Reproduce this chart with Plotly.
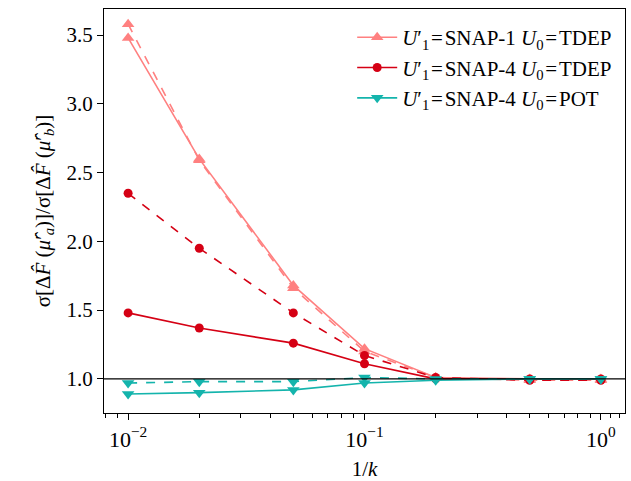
import plotly.graph_objects as go

inv_k = [0.01, 0.02, 0.05, 0.1, 0.2, 0.5, 1.0]

snap1_tdep_solid = [3.48, 2.60, 1.68, 1.22, 1.01, 1.00, 1.00]
snap1_tdep_dash = [3.58, 2.59, 1.66, 1.20, 1.01, 0.99, 0.99]
snap4_tdep_solid = [1.48, 1.37, 1.26, 1.11, 1.00, 1.00, 1.00]
snap4_tdep_dash = [2.35, 1.95, 1.48, 1.17, 1.01, 0.99, 0.99]
snap4_pot_solid = [0.89, 0.90, 0.92, 0.97, 0.99, 1.00, 1.00]
snap4_pot_dash = [0.97, 0.98, 0.98, 1.01, 1.00, 1.00, 1.00]

labels = [
    "<i>U</i>′<sub>1</sub>\u200a=\u200aSNAP-1 <i>U</i><sub>0</sub>\u200a=\u200aTDEP",
    "<i>U</i>′<sub>1</sub>\u200a=\u200aSNAP-4 <i>U</i><sub>0</sub>\u200a=\u200aTDEP",
    "<i>U</i>′<sub>1</sub>\u200a=\u200aSNAP-4 <i>U</i><sub>0</sub>\u200a=\u200aPOT",
]
colors = ["#ff8080", "#d50014", "#14b4ac"]
symbols = ["triangle-up", "circle", "triangle-down"]
msizes = [11, 9, 11]
solids = [snap1_tdep_solid, snap4_tdep_solid, snap4_pot_solid]
dashes = [snap1_tdep_dash, snap4_tdep_dash, snap4_pot_dash]

FONT = "Liberation Serif"

fig = go.Figure()

for i in range(3):
    fig.add_trace(go.Scatter(
        x=inv_k, y=solids[i], mode="lines+markers", name=labels[i],
        line=dict(color=colors[i], width=1.6),
        marker=dict(symbol=symbols[i], size=msizes[i], color=colors[i]),
        showlegend=True,
    ))
    fig.add_trace(go.Scatter(
        x=inv_k, y=dashes[i], mode="lines+markers", name=labels[i],
        line=dict(color=colors[i], width=1.6, dash="dash"),
        marker=dict(symbol=symbols[i], size=msizes[i], color=colors[i]),
        showlegend=False,
    ))

fig.add_hline(y=1.0, line=dict(color="black", width=1.2), layer="above")

fig.update_layout(
    width=631, height=481,
    margin=dict(l=104, r=6, t=9, b=68),
    paper_bgcolor="white", plot_bgcolor="white",
    font=dict(family=FONT, size=20, color="black"),
    showlegend=True,
    legend=dict(
        x=0.985, y=0.98, xanchor="right", yanchor="top",
        bgcolor="rgba(255,255,255,0.8)", borderwidth=0,
        font=dict(family=FONT, size=21), tracegroupgap=0,
        itemwidth=40,
    ),
    xaxis=dict(
        type="log", range=[-2.102, 0.102], automargin=False,
        tickvals=[0.01, 0.1, 1.0],
        ticktext=["10<sup>−2</sup>", "10<sup>−1</sup>", "10<sup>0</sup>"],
        ticks="outside", ticklen=6, tickwidth=1.2, tickcolor="black",
        minor=dict(ticks="outside", ticklen=3.5, tickwidth=1, tickcolor="black",
                   tickvals=[0.008, 0.009, 0.02, 0.03, 0.04, 0.05, 0.06, 0.07, 0.08, 0.09,
                             0.2, 0.3, 0.4, 0.5, 0.6, 0.7, 0.8, 0.9, 1.1, 1.2]),
        showline=True, linecolor="black", linewidth=1.2, mirror=True,
        showgrid=False, zeroline=False,
        title=dict(text="1/<i>k</i>", font=dict(family=FONT, size=21), standoff=10),
        tickfont=dict(family=FONT, size=22),
    ),
    yaxis=dict(
        range=[0.752, 3.69], automargin=False,
        tickvals=[1.0, 1.5, 2.0, 2.5, 3.0, 3.5],
        ticktext=["1.0", "1.5", "2.0", "2.5", "3.0", "3.5"],
        ticks="outside", ticklen=6, tickwidth=1.2, tickcolor="black",
        showline=True, linecolor="black", linewidth=1.2, mirror=True,
        showgrid=False, zeroline=False,
        title=dict(
            text="σ[Δ<i>F̂</i> (<i>μ̂</i>′<sub><i>a</i></sub>)]/σ[Δ<i>F̂</i> (<i>μ̂</i>′<sub><i>b</i></sub>)]",
            font=dict(family=FONT, size=21), standoff=10),
        tickfont=dict(family=FONT, size=21),
    ),
)

fig.write_html("out.html", config={"displayModeBar": False},
               post_script="document.body.style.margin='0';")
